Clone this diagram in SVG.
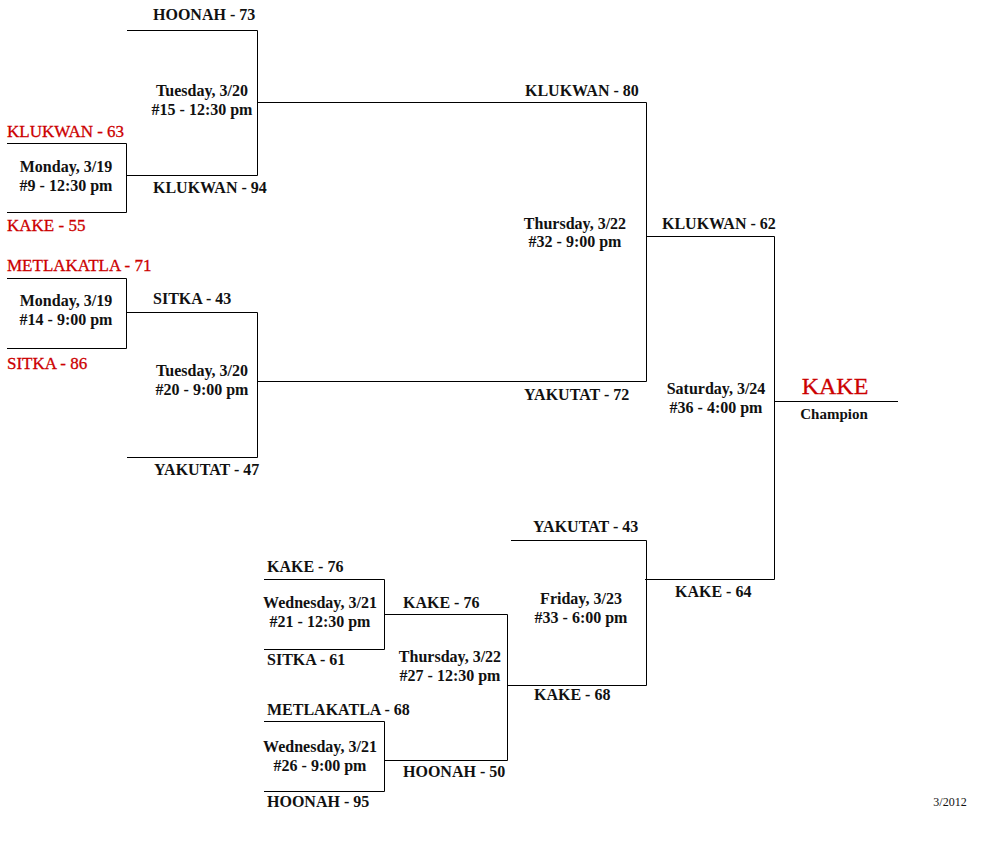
<svg xmlns="http://www.w3.org/2000/svg" width="1000" height="860" viewBox="0 0 1000 860">
<style>
text{font-family:"Liberation Serif","Times New Roman",serif;fill:#111}
.t{font-size:16px;font-weight:bold}
.d{font-size:16px;font-weight:bold;text-anchor:middle}
.r{font-size:17px;fill:#cc0000;stroke:#cc0000;stroke-width:0.3}
.champ{font-size:24px;fill:#cc0000;stroke:#cc0000;stroke-width:0.3;text-anchor:middle}
.c{font-size:15px;font-weight:bold;text-anchor:middle}
.s{font-size:12px;text-anchor:middle}
.ln{fill:none;stroke:#000;stroke-width:1}
</style>
<rect width="1000" height="860" fill="#fff"/>
<g id="connectors" class="ln">
<path d="M7,143.5H126.5V212.5H7M126.5,175.5H257.5"/>
<path d="M127,30.5H257.5V175.5M257.5,102.5H646.5"/>
<path d="M7,278.5H126.5V348.5H7M126.5,312.5H257.5"/>
<path d="M127,457.5H257.5V312.5M257.5,381.5H646.5"/>
<path d="M646.5,102.5V381.5M646.5,236.5H774.5"/>
<path d="M264,579.5H384.5V649.5H264M384.5,614.5H507.5"/>
<path d="M264,721.5H384.5V791.5H264M384.5,760.5H507.5"/>
<path d="M507.5,614.5V760.5M507.5,685.5H646.5"/>
<path d="M511,540.5H646.5V685.5M645,579.5H774.5"/>
<path d="M774.5,236.5V579.5M774.5,401.5H898"/>
</g>
<g id="game9">
<text class="r" x="7" y="137">KLUKWAN - 63</text>
<text class="d" x="66" y="172">Monday, 3/19</text>
<text class="d" x="66" y="191">#9 - 12:30 pm</text>
<text class="r" x="7" y="231">KAKE - 55</text>
</g>
<g id="game14">
<text class="r" x="7" y="271">METLAKATLA - 71</text>
<text class="d" x="66" y="306">Monday, 3/19</text>
<text class="d" x="66" y="325">#14 - 9:00 pm</text>
<text class="r" x="7" y="369">SITKA - 86</text>
</g>
<g id="game15">
<text class="t" x="153" y="20">HOONAH - 73</text>
<text class="d" x="202" y="96">Tuesday, 3/20</text>
<text class="d" x="202" y="115">#15 - 12:30 pm</text>
<text class="t" x="153" y="193">KLUKWAN - 94</text>
</g>
<g id="game20">
<text class="t" x="153" y="304">SITKA - 43</text>
<text class="d" x="202" y="376">Tuesday, 3/20</text>
<text class="d" x="202" y="395">#20 - 9:00 pm</text>
<text class="t" x="154" y="475">YAKUTAT - 47</text>
</g>
<g id="game32">
<text class="t" x="525" y="96">KLUKWAN - 80</text>
<text class="d" x="575" y="229">Thursday, 3/22</text>
<text class="d" x="575" y="247">#32 - 9:00 pm</text>
<text class="t" x="524" y="400">YAKUTAT - 72</text>
</g>
<g id="game21">
<text class="t" x="267" y="572">KAKE - 76</text>
<text class="d" x="320" y="608">Wednesday, 3/21</text>
<text class="d" x="320" y="627">#21 - 12:30 pm</text>
<text class="t" x="267" y="665">SITKA - 61</text>
</g>
<g id="game26">
<text class="t" x="267" y="715">METLAKATLA - 68</text>
<text class="d" x="320" y="752">Wednesday, 3/21</text>
<text class="d" x="320" y="771">#26 - 9:00 pm</text>
<text class="t" x="267" y="807">HOONAH - 95</text>
</g>
<g id="game27">
<text class="t" x="403" y="608">KAKE - 76</text>
<text class="d" x="450" y="662">Thursday, 3/22</text>
<text class="d" x="450" y="681">#27 - 12:30 pm</text>
<text class="t" x="403" y="777">HOONAH - 50</text>
</g>
<g id="game33">
<text class="t" x="533" y="532">YAKUTAT - 43</text>
<text class="d" x="581" y="604">Friday, 3/23</text>
<text class="d" x="581" y="623">#33 - 6:00 pm</text>
<text class="t" x="534" y="700">KAKE - 68</text>
</g>
<g id="game36">
<text class="t" x="662" y="229">KLUKWAN - 62</text>
<text class="d" x="716" y="394">Saturday, 3/24</text>
<text class="d" x="716" y="413">#36 - 4:00 pm</text>
<text class="t" x="675" y="597">KAKE - 64</text>
</g>
<g id="champion">
<text class="champ" x="835" y="394">KAKE</text>
<text class="c" x="834" y="419">Champion</text>
</g>
<g id="footer">
<text class="s" x="950" y="806">3/2012</text>
</g>
</svg>
